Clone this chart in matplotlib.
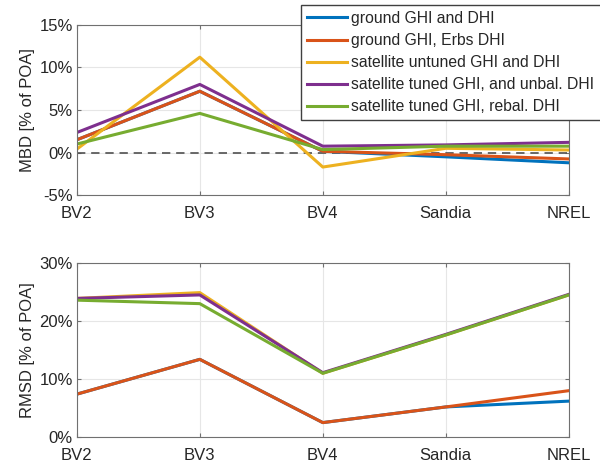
import matplotlib
matplotlib.use('Agg')
import numpy as np
import matplotlib.pyplot as plt
from matplotlib.ticker import FuncFormatter

plt.rcParams['font.family'] = ['Liberation Sans', 'DejaVu Sans']

sites = ['BV2', 'BV3', 'BV4', 'Sandia', 'NREL']
labels = ['ground GHI and DHI', 'ground GHI, Erbs DHI', 'satellite untuned GHI and DHI',
          'satellite tuned GHI, and unbal. DHI', 'satellite tuned GHI, rebal. DHI']
colors = ['#0072BD', '#D95319', '#EDB120', '#7E2F8E', '#77AC30']

# MBD [% of POA]
mbd_ground = [1.5, 7.2, 0.15, -0.5, -1.2]
mbd_erbs = [1.5, 7.2, 0.15, -0.25, -0.75]
mbd_untuned = [0.4, 11.2, -1.7, 0.5, 0.3]
mbd_tuned = [2.35, 8.0, 0.75, 0.9, 1.2]
mbd_rebal = [1.0, 4.6, 0.35, 0.75, 0.75]

# RMSD [% of POA]
rmsd_ground = [7.4, 13.4, 2.5, 5.2, 6.2]
rmsd_erbs = [7.4, 13.4, 2.5, 5.2, 8.0]
rmsd_untuned = [23.9, 24.9, 11.0, 17.6, 24.5]
rmsd_tuned = [23.9, 24.5, 11.1, 17.7, 24.6]
rmsd_rebal = [23.6, 23.0, 11.0, 17.6, 24.5]

mbd = [mbd_ground, mbd_erbs, mbd_untuned, mbd_tuned, mbd_rebal]
rmsd = [rmsd_ground, rmsd_erbs, rmsd_untuned, rmsd_tuned, rmsd_rebal]

fig = plt.figure(figsize=(6, 4.68), dpi=100)
ax1 = fig.add_axes([0.128, 0.583, 0.82, 0.364])
ax2 = fig.add_axes([0.128, 0.066, 0.82, 0.372])

x = np.arange(len(sites))
txt = '#262626'
pct = FuncFormatter(lambda v, p: '%d%%' % v)

for ax, data in [(ax1, mbd), (ax2, rmsd)]:
    for vals, c, lab in zip(data, colors, labels):
        ax.plot(x, vals, color=c, lw=2.2, label=lab)
    ax.set_xlim(0, 4)
    ax.set_xticks(x)
    ax.set_xticklabels(sites)
    ax.yaxis.set_major_formatter(pct)
    ax.grid(True, color='#e6e6e6', lw=0.8)
    ax.set_axisbelow(True)
    ax.tick_params(direction='in', top=True, right=True, length=3, colors='#707070',
                   labelcolor=txt, labelsize=12)
    ax.tick_params(axis='x', pad=8)
    ax.tick_params(axis='y', pad=3)
    for s in ax.spines.values():
        s.set_color('#707070')
        s.set_linewidth(0.8)

ax1.axhline(0, color='#505050', ls=(0, (5, 3.5)), lw=1.2, zorder=1.5)
ax1.set_ylim(-5, 15)
ax1.set_yticks([-5, 0, 5, 10, 15])
ax1.set_ylabel('MBD [% of POA]', fontsize=12, color=txt, labelpad=3)

ax2.set_ylim(0, 30)
ax2.set_yticks([0, 10, 20, 30])
ax2.set_ylabel('RMSD [% of POA]', fontsize=12, color=txt, labelpad=3)

h, l = ax1.get_legend_handles_labels()
leg = fig.legend(h, l, loc='upper left', bbox_to_anchor=(0.502, 0.99), fontsize=11.3,
                 frameon=True, fancybox=False, edgecolor='#404040', framealpha=1,
                 handlelength=2.5, handletextpad=0.3, labelspacing=0.45,
                 borderpad=0.4, borderaxespad=0)
for t in leg.get_texts():
    t.set_color(txt)

fig.savefig('out.png', dpi=100)
